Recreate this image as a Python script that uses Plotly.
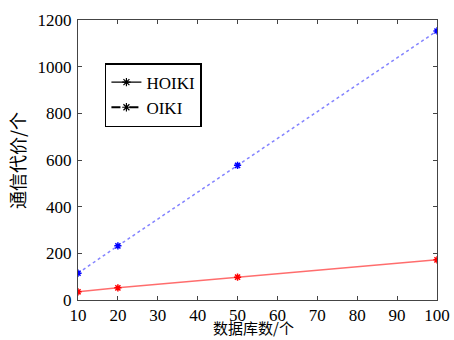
import plotly.graph_objects as go

x_vals = [10, 20, 50, 100]
hoiki = [35, 52, 98, 172]
oiki = [115, 232, 577, 1153]
legend_names = ["HOIKI", "OIKI"]
x_ticks = [10, 20, 30, 40, 50, 60, 70, 80, 90, 100]
y_ticks = [0, 200, 400, 600, 800, 1000, 1200]
x_title = "数据库数/个"
y_title = "通信代价/个"

serif = "Liberation Serif"
cjk = "Noto Sans CJK SC"

fig = go.Figure()
fig.add_trace(go.Scatter(
    x=x_vals, y=hoiki, mode="lines+markers", showlegend=False,
    line=dict(color="rgba(255,60,60,0.75)", width=1.5),
    marker=dict(symbol="asterisk-open", size=6, color="red", line=dict(color="red", width=1.5)),
))
fig.add_trace(go.Scatter(
    x=x_vals, y=oiki, mode="lines+markers", showlegend=False,
    line=dict(color="rgba(90,90,255,0.75)", width=1.5, dash="dot"),
    marker=dict(symbol="asterisk-open", size=6, color="blue", line=dict(color="blue", width=1.5)),
))
fig.add_trace(go.Scatter(
    x=[None], y=[None], mode="lines+markers", name=legend_names[0],
    line=dict(color="black", width=1.2),
    marker=dict(symbol="asterisk-open", size=7, line=dict(color="black", width=1.2)),
))
fig.add_trace(go.Scatter(
    x=[None], y=[None], mode="lines+markers", name=legend_names[1],
    line=dict(color="black", width=2.2, dash="dash"),
    marker=dict(symbol="asterisk-open", size=7, line=dict(color="black", width=1.2)),
))

axis_common = dict(
    showgrid=False, zeroline=False, showline=True, linecolor="#444", linewidth=1,
    mirror="ticks", ticks="inside", ticklen=4, tickcolor="#444", automargin=False,
    tickfont=dict(family=serif, size=17, color="black"),
)
fig.update_xaxes(range=[10, 100], tickvals=x_ticks, ticklabelstandoff=0, **axis_common)
fig.update_yaxes(range=[0, 1200], tickvals=y_ticks, ticklabelstandoff=2, **axis_common)

fig.add_annotation(text=x_title, xref="paper", yref="paper", x=0.49, y=-0.143,
                   xanchor="center", yanchor="bottom", showarrow=False,
                   font=dict(family=cjk, size=15, color="black"))
fig.add_annotation(text=y_title, xref="paper", yref="paper", x=-0.17, y=0.5,
                   xanchor="center", yanchor="middle", showarrow=False, textangle=-90,
                   font=dict(family=cjk, size=18, color="black"))

fig.update_layout(
    width=454, height=340,
    margin=dict(l=78, r=17, t=20, b=40),
    paper_bgcolor="white", plot_bgcolor="white",
    showlegend=True,
    legend=dict(
        x=0.075, y=0.846, xanchor="left", yanchor="top",
        bgcolor="white", bordercolor="black", borderwidth=1.5,
        font=dict(family=serif, size=17, color="black"),
        tracegroupgap=0, itemwidth=30,
    ),
)

fig.write_html("out.html")
